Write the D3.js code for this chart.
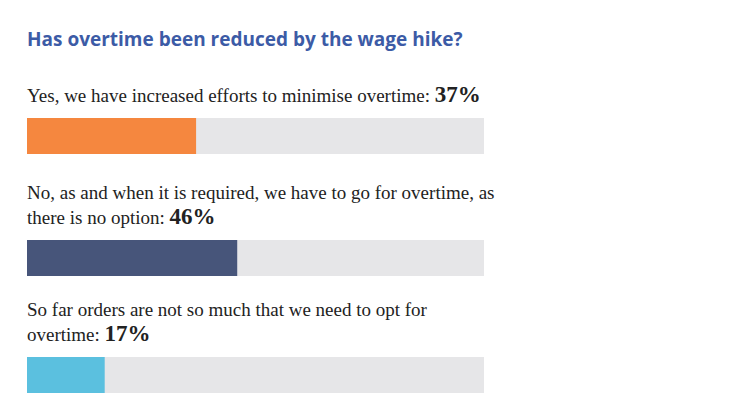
<!DOCTYPE html>
<html><head><meta charset="utf-8">
<script src="https://cdn.jsdelivr.net/npm/d3@7"></script>
<style>body{margin:0;background:#fff}</style>
</head><body><div id="chart"></div>
<script>
var labels = [
  ["Yes, we have increased efforts to minimise overtime: "],
  ["No, as and when it is required, we have to go for overtime, as", "there is no option: "],
  ["So far orders are not so much that we need to opt for", "overtime: "]
];
var values = [37, 46, 17];
var colors = ["#f5873f", "#47557a", "#5bc0df"];

var width = 747, height = 420;
var svg = d3.select("#chart").append("svg")
    .attr("width", width).attr("height", height);

svg.append("text")
    .attr("x", 27).attr("y", 46)
    .style("font", "bold 19px 'Open Sans', sans-serif")
    .style("fill", "#3c5ba6")
    .text("Has overtime been reduced by the wage hike?");

var x = d3.scaleLinear().domain([0, 100]).range([27, 484]);
var barTops = [118, 240, 357];
var barH = 36;

values.forEach(function (v, i) {
    var lines = labels[i];
    var firstBase = barTops[i] - 16 - (lines.length - 1) * 25;
    var t = svg.append("text")
        .style("font", "19px 'Liberation Serif', serif")
        .style("fill", "#222");
    lines.forEach(function (l, j) {
        var ts = t.append("tspan").attr("x", 27).attr("y", firstBase + j * 25).text(l);
    });
    t.append("tspan")
        .style("font", "bold 23px 'Liberation Serif', serif")
        .text(v + "%");

    svg.append("rect")
        .attr("x", x(0)).attr("y", barTops[i])
        .attr("width", x(100) - x(0)).attr("height", barH)
        .style("fill", "#e6e6e8");
    svg.append("rect")
        .attr("x", x(0)).attr("y", barTops[i])
        .attr("width", x(v) - x(0)).attr("height", barH)
        .style("fill", colors[i]);
});
</script></body></html>
